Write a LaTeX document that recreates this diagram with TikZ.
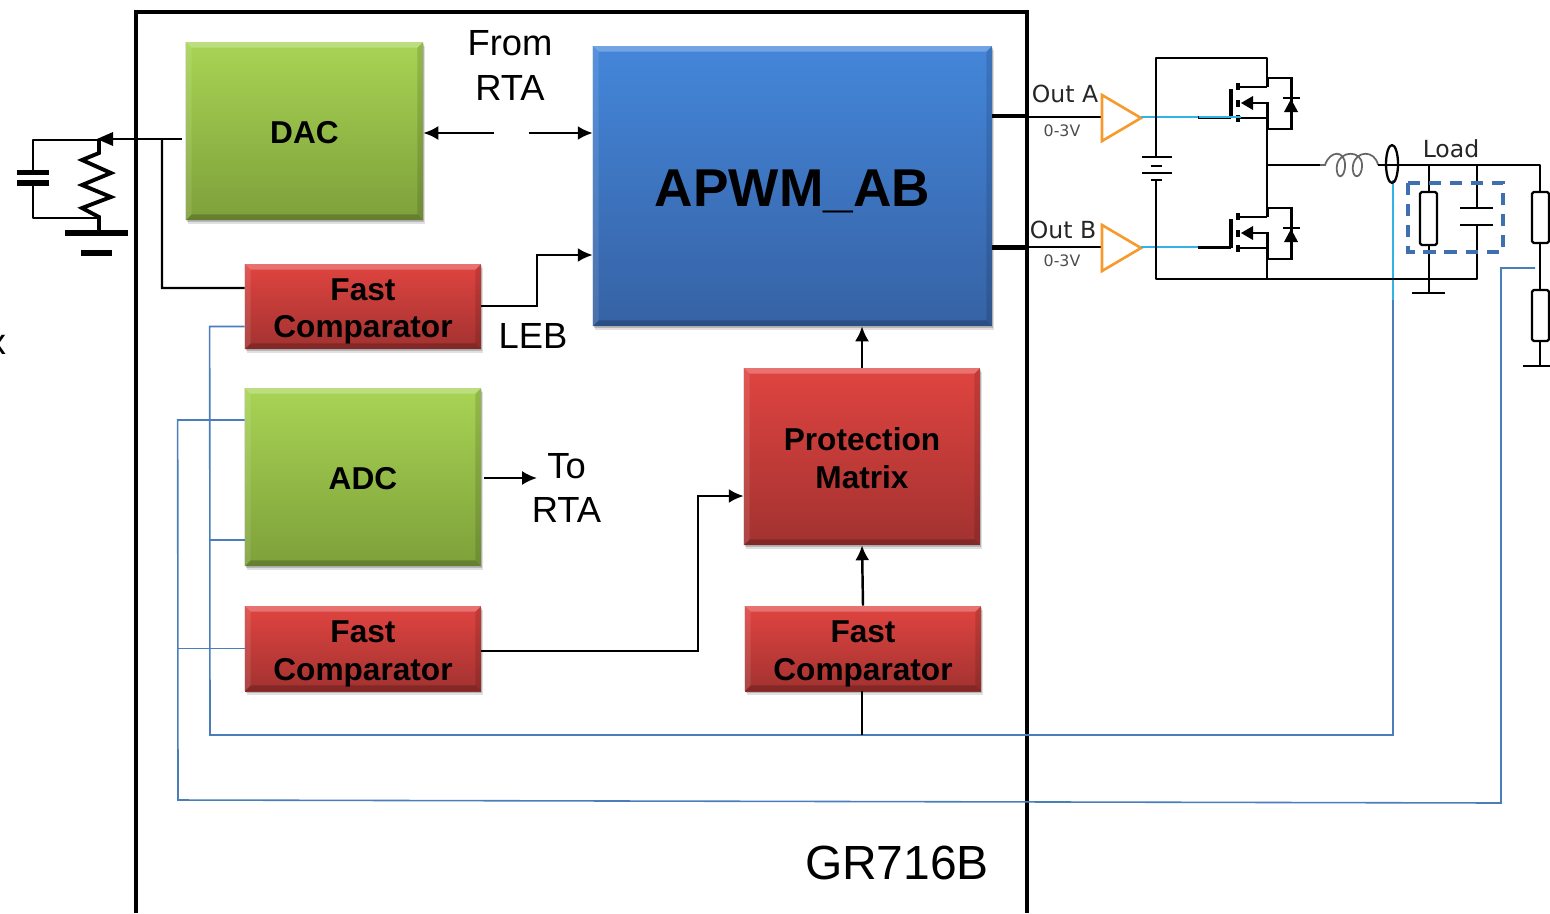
\documentclass[tikz,border=0pt]{standalone}
\usepackage{fontspec}
\setmainfont{Liberation Sans}
\newfontfamily\schemfont{DejaVu Sans}
\usetikzlibrary{arrows.meta}
\definecolor{wireblue}{HTML}{4A7EBB}
\definecolor{wirecyan}{HTML}{30B4E6}
\definecolor{dashblue}{HTML}{3E6FAE}
\definecolor{amporange}{HTML}{F79A2E}
\tikzset{
  block/.style={inner sep=0pt, align=center, text=black,
    preaction={fill=black, opacity=0.12, transform canvas={xshift=1.2pt, yshift=-2.2pt}},
    preaction={fill=black, opacity=0.18, transform canvas={xshift=0.4pt, yshift=-1pt}},
    preaction={fill=black, opacity=0.12, transform canvas={xshift=-0.6pt, yshift=-0.2pt}},
    font=\bfseries\fontsize{18}{22}\selectfont},
  blocktext/.style={inner sep=0pt, align=center, text=black, font=\bfseries\fontsize{18}{21.6}\selectfont},
  textdown/.style={execute at begin node={\rule{0pt}{#1}}},
  greenblock/.style={block, top color={rgb,255:red,168;green,212;blue,84}, bottom color={rgb,255:red,126;green,160;blue,58}},
  redblock/.style={block, top color={rgb,255:red,224;green,68;blue,64}, bottom color={rgb,255:red,162;green,50;blue,48}},
  blueblock/.style={block, top color={rgb,255:red,68;green,134;blue,218}, bottom color={rgb,255:red,54;green,98;blue,164}},
  wire/.style={line width=1.4pt, draw=black},
  sense/.style={line width=0.9pt, draw=wireblue},
  gatewire/.style={line width=1.2pt, draw=wirecyan},
  schem/.style={line width=1.3pt, draw=black, line join=round},
  label/.style={font=\fontsize{20.7}{25.5}\selectfont, align=center, inner sep=0pt},
  schemlabel/.style={font=\schemfont\fontsize{13.4}{15}\selectfont, text=black!85, inner sep=0pt},
  vlabel/.style={font=\schemfont\fontsize{9}{11}\selectfont, text=black!70, inner sep=0pt}
}
\begin{document}
\begin{tikzpicture}[x=0.02cm, y=-0.02cm, >={Latex[length=8.5pt,width=8pt]}]
  \useasboundingbox (0,0) rectangle (1550,913);

  % Chip outline
  \draw[line width=2.8pt] (136,913) -- (136,12) -- (1027,12) -- (1027,913);
  \node[label, font=\fontsize{27.3}{32}\selectfont] (chipname) at (897,863) {GR716B};
  \node[label] (cut) at (-3,345) {x};

  % Blocks
  \node[greenblock, textdown=14.5pt, minimum width=4.74cm, minimum height=3.56cm] (dac) at (304.5,131) {DAC};
  \node[redblock, minimum width=4.72cm, minimum height=1.7cm] (fcone) at (363,306.5) {};
  \node[greenblock, textdown=14.5pt, minimum width=4.72cm, minimum height=3.56cm] (adc) at (363,477) {ADC};
  \node[redblock, minimum width=4.72cm, minimum height=1.7cm] (fctwo) at (363,648.5) {};
  \node[redblock, minimum width=4.72cm, minimum height=1.7cm] (fcthree) at (863,648.5) {};
  \node[redblock, minimum width=4.72cm, minimum height=3.54cm] (prot) at (862,456.5) {};
  \node[blueblock, textdown=26.5pt, minimum width=7.98cm, minimum height=5.6cm, font=\bfseries\fontsize{30.3}{36}\selectfont] (apwm) at (792.5,186) {APWM\_AB};

  % Block texts
  \node[blocktext] (fconetext) at ([yshift=-2.8pt]fcone.center) {Fast\\Comparator};
  \node[blocktext] (fctwotext) at ([yshift=-3.1pt]fctwo.center) {Fast\\Comparator};
  \node[blocktext] (fcthreetext) at ([yshift=-3.1pt]fcthree.center) {Fast\\Comparator};
  \node[blocktext] (prottext) at ([yshift=-0.9pt]prot.center) {Protection\\Matrix};

  % Bevels
  \foreach \n in {dac,fcone,adc,fctwo,fcthree,prot,apwm}{
    \fill[white, opacity=0.25] (\n.north west) -- (\n.north east) -- ([xshift=-3.4pt,yshift=-3.4pt]\n.north east) -- ([xshift=3.4pt,yshift=-3.4pt]\n.north west) -- cycle;
    \fill[white, opacity=0.1] (\n.north west) -- (\n.south west) -- ([xshift=3.4pt,yshift=3.4pt]\n.south west) -- ([xshift=3.4pt,yshift=-3.4pt]\n.north west) -- cycle;
    \fill[black, opacity=0.12] (\n.north east) -- (\n.south east) -- ([xshift=-3.4pt,yshift=3.4pt]\n.south east) -- ([xshift=-3.4pt,yshift=-3.4pt]\n.north east) -- cycle;
    \fill[black, opacity=0.2] (\n.south west) -- (\n.south east) -- ([xshift=-3.4pt,yshift=3.4pt]\n.south east) -- ([xshift=3.4pt,yshift=3.4pt]\n.south west) -- cycle;
  }

  % Labels
  \node[label] (fromrta) at (510,65.5) {From\\RTA};
  \node[label] (torta) at (566.5,488) {To\\RTA};
  \node[label] (leb) at (533,336) {LEB};
  \coordinate (fromleft) at (494,133);
  \coordinate (fromright) at (529,133);
  \coordinate (adcout) at (484,478);
  \coordinate (toin) at (537,478);

  % Sense wires
  \coordinate (sensea) at (1393,180);
  \coordinate (senseb) at (1535,268);
  \draw[sense] ([yshift=-0.4cm]fcone.west) -- ++(-35,0) -- (210,735) -- (1393,735) -- (1393,300);
  \draw[gatewire] (1393,300) -- (sensea);
  \draw[sense] ([yshift=-1.26cm]adc.west) -- ++(-35,0);
  \draw[sense] ([yshift=1.14cm]adc.west) -- ++(-67,0) -- (178,800) -- (1501,803) -- (1501,268) -- (senseb);
  \draw[sense] (fctwo.west) -- ++(-67,0);

  % Connectors
  \draw[wire, ->] (fromleft) -- (dac.east |- fromleft);
  \draw[wire, ->] (fromright) -- (apwm.west |- fromright);
  \draw[wire, ->] (fcone.east |- 0,306) -- (537,306) -- (537,255) -- (apwm.west |- 0,255);
  \draw[wire, ->] (adcout) -- (toin);
  \draw[wire, ->] (fctwo.east |- 0,651) -- (698,651) -- (698,496) -- (prot.west |- 0,496);
  \draw[wire, ->] (fcthree.north) -- (prot.south);
  \draw[wire, ->] (prot.north) -- (prot.north |- apwm.south);
  \draw[wire] (prot.south |- fcthree.south) -- (862,735);

  % Input filter and trim
  \coordinate (dacout) at (182,139);
  \draw[wire] (dacout) -- (113,139);
  \fill (113,132) -- (113,146) -- (97,139) -- cycle;
  \draw[wire] (162,139) -- (162,288) -- ([yshift=0.37cm]fcone.west);
  \draw[schem] (99,140) -- (33,140) -- (33,172);
  \draw[schem] (33,183) -- (33,218) -- (99,218);
  \draw[line width=3.2pt] (17,172.5) -- (49,172.5);
  \draw[line width=3.2pt] (17,183) -- (49,183);
  \draw[line width=2.2pt, line join=miter] (99,140) -- (99,153) -- (82,160) -- (111,173) -- (82,185) -- (111,197) -- (82,208) -- (99,217) -- (99,233);
  \draw[line width=3.4pt] (65,233) -- (128,233);
  \draw[line width=3.4pt] (81,253) -- (112,253);

  % Outputs
  \foreach \oy/\name/\lx/\ly in {0/Out A/1065/94, 130/Out B/1063/230}{
    \draw[line width=2.8pt] (992,116+\oy*1.012) -- (1027,116+\oy*1.012);
    \draw[wire] (1027,117+\oy) -- (1102,117+\oy);
    \draw[line width=1.5pt, draw=amporange, line join=miter] (1102,95+\oy) -- (1141,118+\oy) -- (1102,141+\oy) -- cycle;
    \node[schemlabel] at (\lx,\ly) {\name};
    \node[vlabel] at (1062,131+\oy) {0-3V};
    % Half bridge switch
    \draw[gatewire] (1141,117+\oy) -- (1199,117+\oy);
    \draw[line width=1.7pt] (1198,117.5+\oy) -- (1231,117.5+\oy);
    \draw[line width=2pt] (1231,117.5+\oy) -- (1231,89+\oy);
    \draw[line width=2.2pt] (1238,83+\oy) -- (1238,90+\oy);
    \draw[line width=2.2pt] (1238,100+\oy) -- (1238,107+\oy);
    \draw[line width=2.2pt] (1238,115+\oy) -- (1238,122+\oy);
    \draw[line width=1.7pt] (1238,87+\oy) -- (1267,87+\oy);
    \draw[line width=1.7pt] (1250,103+\oy) -- (1267,103+\oy) -- (1267,129+\oy);
    \draw[line width=1.7pt] (1238,118+\oy) -- (1267,118+\oy);
    \fill (1241,103+\oy) -- (1253,96+\oy) -- (1253,110+\oy) -- cycle;
    \draw[line width=1.7pt] (1267,78+\oy) -- (1291,78+\oy) -- (1291,129+\oy) -- (1267,129+\oy);
    \draw[line width=1.7pt] (1283,98+\oy) -- (1300,98+\oy);
    \fill (1291,99+\oy) -- (1298,112+\oy) -- (1284,112+\oy) -- cycle;
    \draw[line width=1.7pt] (1267,78+\oy) -- (1267,87+\oy);
  }
  \draw[gatewire] (1199,117) -- (1241,117);

  % Bridge supply
  \draw[schem] (1156,157) -- (1156,58) -- (1267,58) -- (1267,78);
  \draw[schem] (1156,180) -- (1156,279) -- (1477,279) -- (1477,225);
  \draw[schem] (1142,157) -- (1172,157);
  \draw[schem] (1151,166) -- (1162,166);
  \draw[schem] (1142,173) -- (1172,173);
  \draw[schem] (1151,180) -- (1162,180);
  \draw[schem] (1267,129) -- (1267,208);
  \draw[schem] (1267,259) -- (1267,279);

  % Output inductor and load
  \draw[schem] (1267,165) -- (1320,165);
  \draw[line width=1pt, draw=black!60] (1320,165) -- (1325,165) .. controls (1330,150) and (1345,150) .. (1345,165) .. controls (1345,180) and (1335,180) .. (1337,165) .. controls (1340,150) and (1362,150) .. (1362,165) .. controls (1362,180) and (1351,180) .. (1353,165) .. controls (1356,150) and (1375,150) .. (1378,165);
  \draw[schem] (1378,165) -- (1540,165) -- (1540,192);
  \draw[schem] (1392,164) ellipse [x radius=6, y radius=19];
  \node[schemlabel] (load) at (1451,149) {Load};
  \draw[schem] (1429,165) -- (1429,192);
  \draw[schem, rounded corners=1pt] (1420,192) rectangle (1437,245);
  \draw[schem] (1429,245) -- (1429,293);
  \draw[schem] (1412,293) -- (1445,293);
  \draw[schem] (1477,165) -- (1477,208);
  \draw[schem] (1460,208) -- (1493,208);
  \draw[schem] (1460,225) -- (1493,225);
  \draw[schem, rounded corners=1pt] (1532,192) rectangle (1549,243);
  \draw[schem] (1540,243) -- (1540,290);
  \draw[schem, rounded corners=1pt] (1532,290) rectangle (1549,341);
  \draw[schem] (1540,341) -- (1540,366);
  \draw[schem] (1523,366) -- (1550,366);
  \draw[line width=2pt, draw=dashblue, dash pattern=on 7pt off 5pt] (1408,183) rectangle (1503,252);
\end{tikzpicture}
\end{document}
